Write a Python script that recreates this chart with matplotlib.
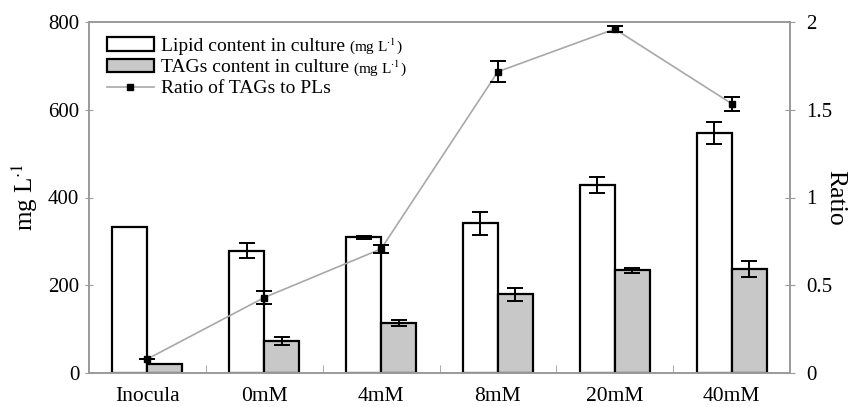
import matplotlib
matplotlib.use("Agg")
import matplotlib.pyplot as plt
from matplotlib.patches import Patch
from matplotlib.lines import Line2D
import numpy as np

plt.rcParams["font.family"] = ["Liberation Serif", "DejaVu Serif"]
plt.rcParams["mathtext.fontset"] = "stix"

categories = ["Inocula", "0mM", "4mM", "8mM", "20mM", "40mM"]
lipid = [332, 279, 309, 341, 428, 547]
lipid_err = [0, 17, 3, 27, 18, 24]
tags = [20, 73, 114, 179, 234, 237]
tags_err = [0, 9, 7, 15, 6, 18]
ratio = [0.08, 0.43, 0.707, 1.717, 1.96, 1.535]
ratio_err = [0.0, 0.035, 0.025, 0.06, 0.018, 0.04]

spine_grey = "#9a9a9a"
x = np.arange(len(categories))
w = 0.3

fig = plt.figure(figsize=(8.61, 4.07), dpi=100)
ax = fig.add_axes([89 / 861, 1 - 373 / 407, 701 / 861, 351 / 407])

ax.bar(x - w / 2, lipid, w, color="white", edgecolor="black", linewidth=1.6,
       yerr=lipid_err, error_kw=dict(ecolor="black", elinewidth=1.4, capsize=6, capthick=1.4),
       zorder=2)
ax.bar(x + w / 2, tags, w, color="#c8c8c8", edgecolor="black", linewidth=1.6,
       yerr=tags_err, error_kw=dict(ecolor="black", elinewidth=1.4, capsize=6, capthick=1.4),
       zorder=2)

ax.set_xlim(-0.5, len(categories) - 0.5)
ax.set_ylim(0, 800)
ax.set_yticks([0, 200, 400, 600, 800])
ax.set_xticks(x)
ax.set_xticklabels(categories)
ax.set_xticks(np.arange(len(categories) + 1) - 0.5, minor=True)
ax.tick_params(axis="x", which="major", length=0, labelsize=15.5, pad=10)
ax.tick_params(axis="x", which="minor", direction="in", length=6, color=spine_grey)
ax.tick_params(axis="y", direction="inout", length=6, color=spine_grey, labelsize=15, pad=4)
ax.set_ylabel("mg L$^{\\cdot 1}$", fontsize=18, labelpad=6)
for s in ax.spines.values():
    s.set_color(spine_grey)
    s.set_linewidth(1.2)

ax2 = ax.twinx()
ax2.plot(x, ratio, color="#a8a8a8", linewidth=1.2, zorder=3)
ax2.errorbar(x, ratio, yerr=ratio_err, fmt="s", color="black", markersize=5,
             elinewidth=1.4, capsize=6, capthick=1.4, zorder=4)
ax2.set_ylim(0, 2)
ax2.set_yticks([0, 0.5, 1, 1.5, 2])
ax2.set_yticklabels(["0", "0.5", "1", "1.5", "2"])
ax2.tick_params(axis="y", direction="inout", length=7, color=spine_grey, labelsize=15, pad=8)
ax2.set_ylabel("Ratio", fontsize=18.5, rotation=270, labelpad=10)
for s in ax2.spines.values():
    s.set_color(spine_grey)
    s.set_linewidth(1.2)

handles = [
    Patch(facecolor="white", edgecolor="black", linewidth=1.6),
    Patch(facecolor="#c8c8c8", edgecolor="black", linewidth=1.6),
    Line2D([], [], color="#a8a8a8", linewidth=1.2, marker="s", markersize=4,
           markerfacecolor="black", markeredgecolor="black"),
]
labels = ["Lipid content in culture", "TAGs content in culture", "Ratio of TAGs to PLs"]
leg = ax2.legend(handles, labels, loc="upper left", bbox_to_anchor=(0.0146, 0.978),
                 frameon=False, fontsize=14, handlelength=2.4, handleheight=0.7,
                 handletextpad=0.4, labelspacing=0.18, borderaxespad=0)

# unit suffix in a smaller font after the two bar entries
fig.canvas.draw()
inv = fig.transFigure.inverted()
for t in leg.get_texts()[:2]:
    bb = t.get_window_extent()
    x0, y0 = inv.transform((bb.x1 + 4, (bb.y0 + bb.y1) / 2))
    fig.text(x0, y0, "(mg L$^{\\cdot 1}$)", fontsize=11, va="center", ha="left")

fig.savefig("out.png", dpi=100)
